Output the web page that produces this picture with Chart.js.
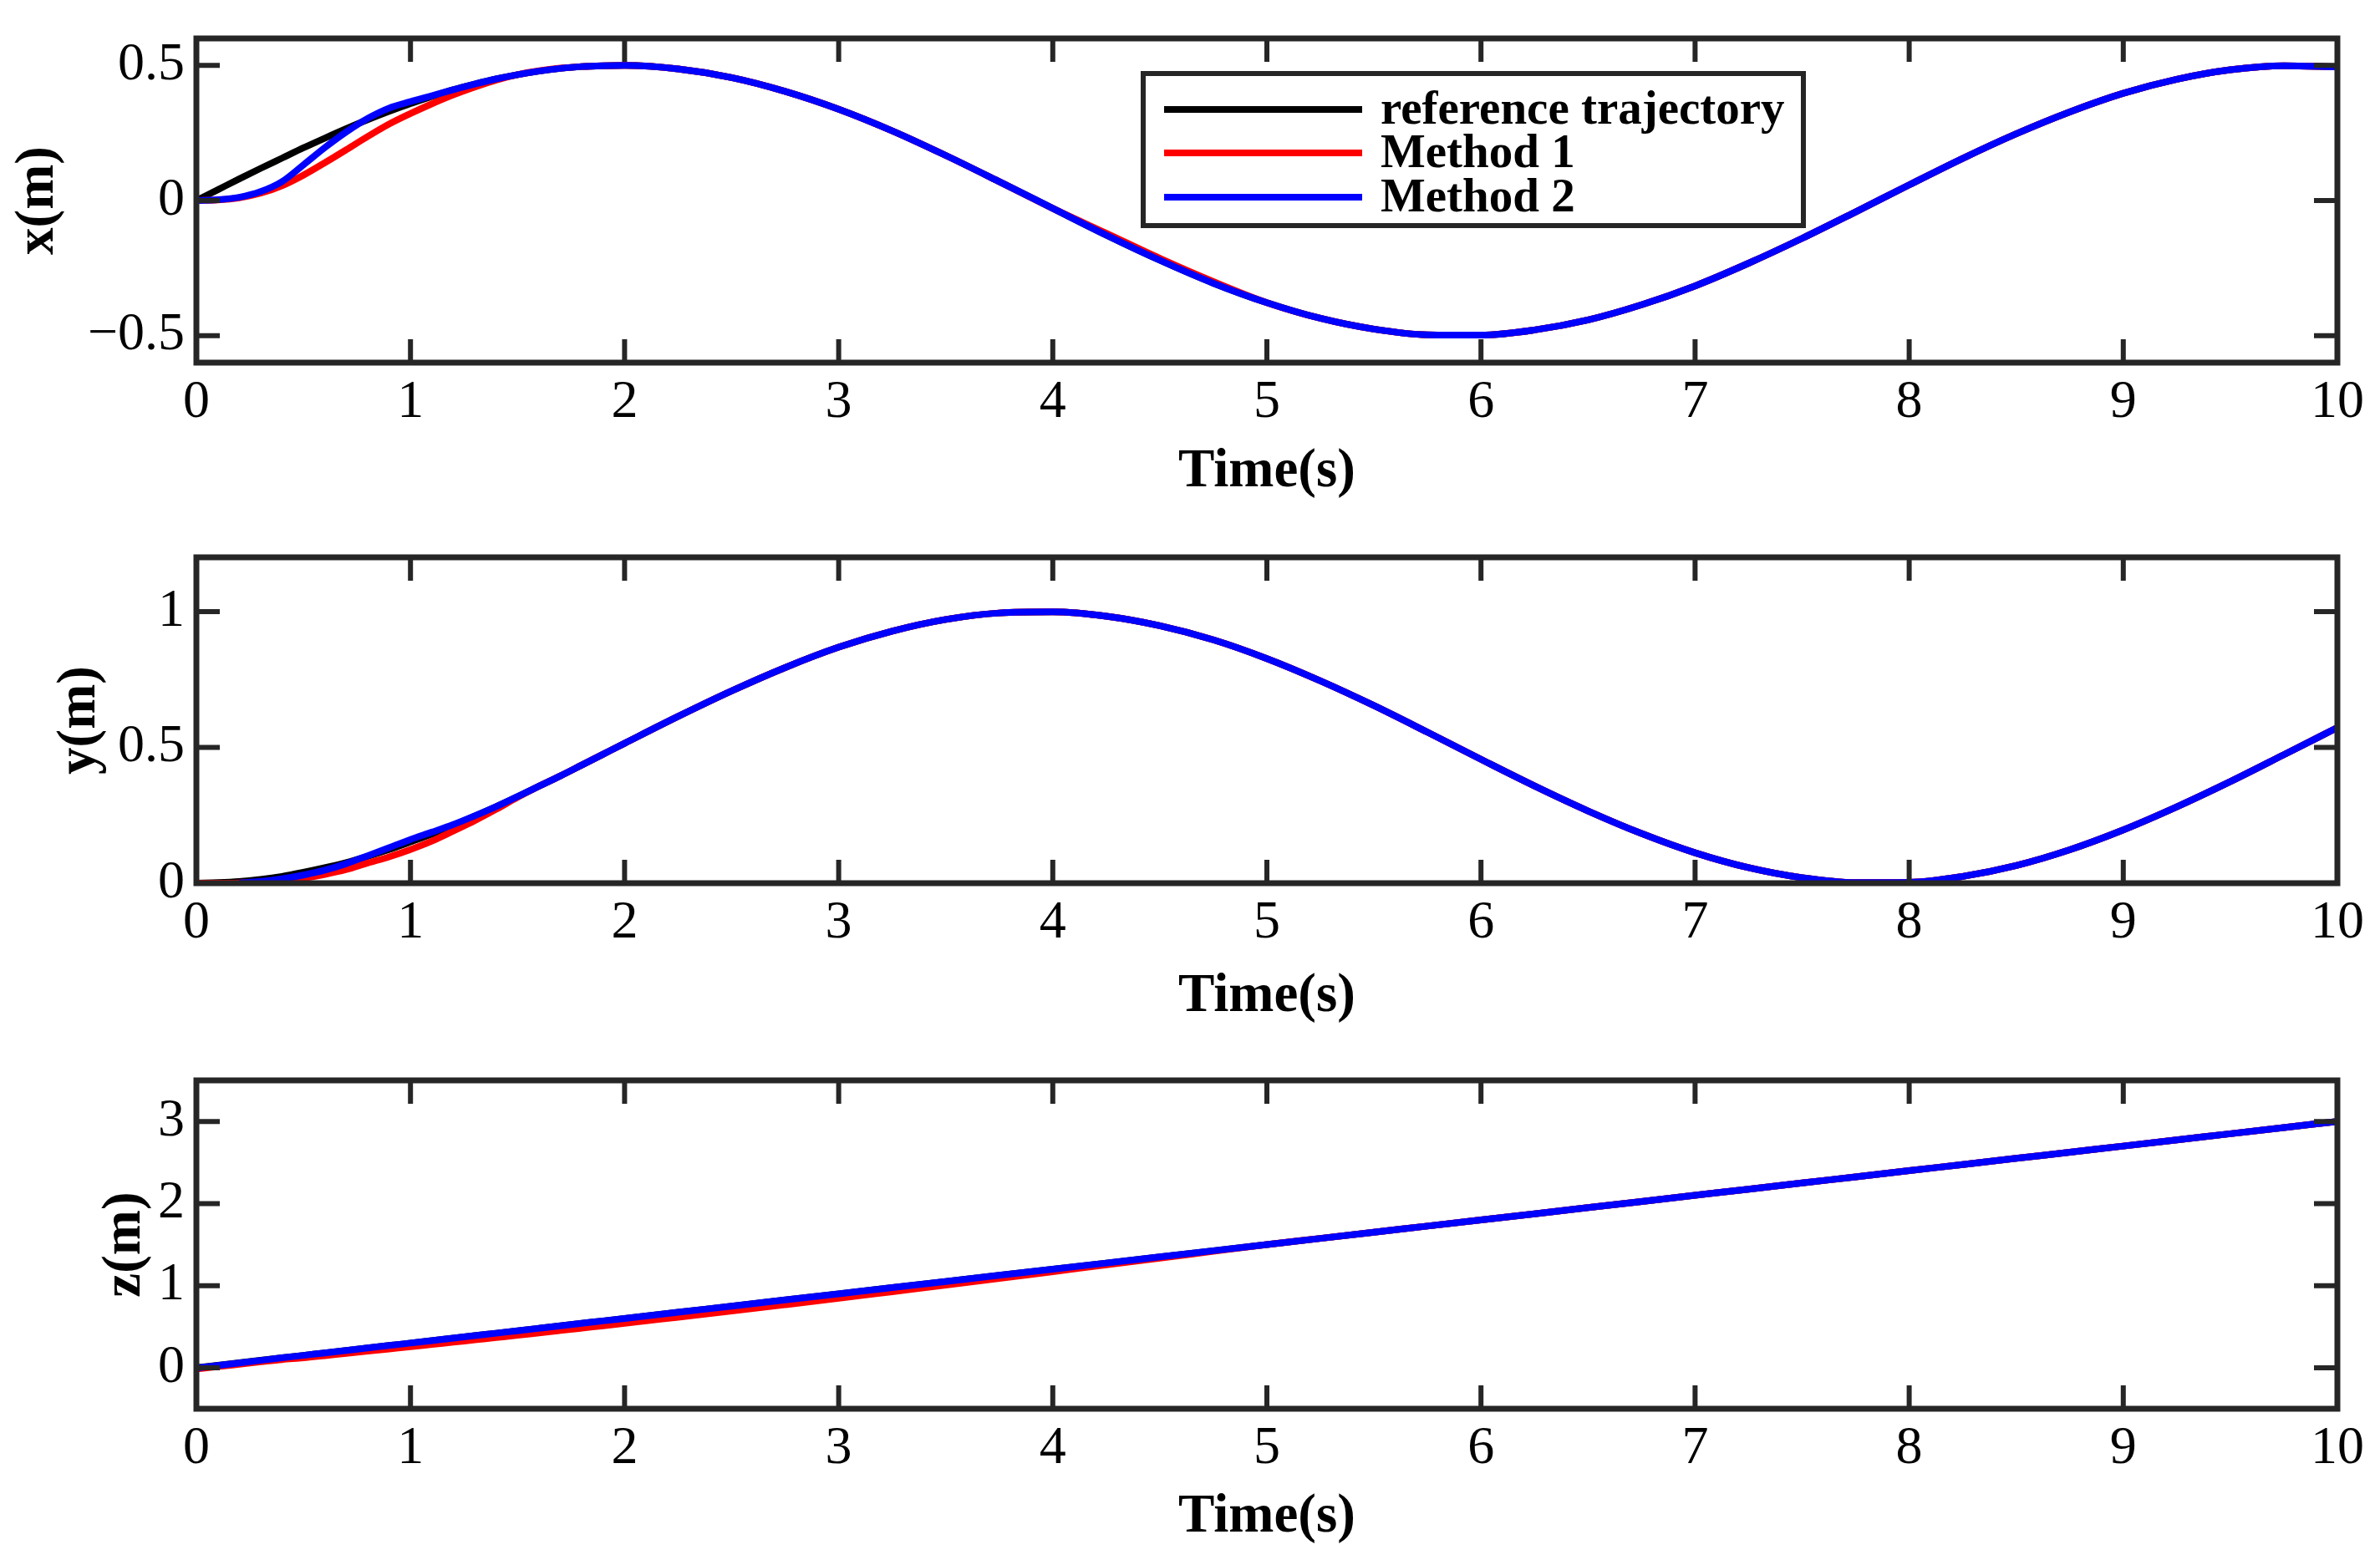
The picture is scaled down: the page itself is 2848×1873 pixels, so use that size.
<!DOCTYPE html>
<html><head><meta charset="utf-8">
<script src="https://cdn.jsdelivr.net/npm/chart.js@4.4.0/dist/chart.umd.min.js"></script>
<style>
html,body{margin:0;padding:0;background:#fff;width:2848px;height:1873px;overflow:hidden;}
canvas{position:absolute;left:0;}
</style></head><body>
<canvas id="c1" width="2848" height="620" style="top:0px"></canvas>
<canvas id="c2" width="2848" height="620" style="top:620px"></canvas>
<canvas id="c3" width="2848" height="633" style="top:1240px"></canvas>
<script>
// ---------- data ----------
const TIME = [0,0.1,0.2,0.3,0.4,0.5,0.6,0.7,0.8,0.9,1.0,1.1,1.2,1.3,1.4,1.5,1.6,1.7,1.8,1.9,2.0,
  2.25,2.5,2.75,3.0,3.25,3.5,3.75,4.0,4.25,4.5,4.75,5.0,5.25,5.5,5.75,6.0,6.25,6.5,6.75,7.0,
  7.25,7.5,7.75,8.0,8.25,8.5,8.75,9.0,9.25,9.5,9.75,10.0];

const SERIES_NAMES = ['reference trajectory', 'Method 1', 'Method 2'];

const X_REF = [0,0.040,0.080,0.119,0.157,0.195,0.231,0.266,0.299,0.330,0.359,0.385,0.410,0.431,0.450,0.466,0.479,0.489,0.496,0.499,0.500,
  0.487,0.455,0.404,0.338,0.258,0.167,0.070,-0.029,-0.128,-0.221,-0.306,-0.378,-0.436,-0.476,-0.497,-0.498,
  -0.479,-0.442,-0.386,-0.316,-0.232,-0.140,-0.042,0.058,0.156,0.247,0.328,0.397,0.449,0.484,0.499,0.495];
const X_M1 = [0,0.002,0.010,0.027,0.055,0.094,0.140,0.188,0.237,0.283,0.322,0.358,0.391,0.420,0.446,0.466,0.480,0.490,0.496,0.499,0.500,
  0.487,0.455,0.404,0.338,0.258,0.167,0.070,-0.029,-0.121,-0.214,-0.300,-0.378,-0.436,-0.476,-0.497,-0.498,
  -0.479,-0.442,-0.386,-0.316,-0.232,-0.140,-0.042,0.058,0.156,0.247,0.328,0.397,0.449,0.484,0.499,0.495];
const X_M2 = [0,0.003,0.012,0.033,0.070,0.132,0.196,0.254,0.304,0.342,0.366,0.388,0.410,0.431,0.450,0.466,0.479,0.489,0.496,0.499,0.500,
  0.487,0.455,0.404,0.338,0.258,0.167,0.070,-0.029,-0.128,-0.221,-0.306,-0.378,-0.436,-0.476,-0.497,-0.498,
  -0.479,-0.442,-0.386,-0.316,-0.232,-0.140,-0.042,0.058,0.156,0.247,0.328,0.397,0.449,0.484,0.499,0.495];

const Y_REF = [0,0.002,0.006,0.014,0.025,0.040,0.057,0.076,0.099,0.124,0.152,0.181,0.213,0.247,0.282,0.319,0.357,0.395,0.435,0.475,0.515,
  0.614,0.708,0.794,0.869,0.928,0.971,0.995,0.999,0.983,0.948,0.896,0.827,0.745,0.654,0.556,0.456,
  0.358,0.266,0.183,0.112,0.057,0.020,0.002,0.003,0.025,0.065,0.123,0.196,0.281,0.374,0.473,0.573];
const Y_M1 = [0,0,0.001,0.003,0.008,0.018,0.032,0.050,0.074,0.097,0.124,0.155,0.192,0.230,0.272,0.316,0.357,0.395,0.435,0.475,0.515,
  0.614,0.708,0.794,0.869,0.928,0.971,0.995,0.999,0.983,0.948,0.896,0.827,0.745,0.654,0.556,0.456,
  0.358,0.266,0.183,0.112,0.057,0.020,0.002,0.003,0.025,0.065,0.123,0.196,0.281,0.374,0.473,0.573];
const Y_M2 = [null,null,0.001,0.006,0.016,0.030,0.048,0.072,0.101,0.131,0.161,0.188,0.216,0.248,0.282,0.319,0.357,0.395,0.435,0.475,0.515,
  0.614,0.708,0.794,0.869,0.928,0.971,0.995,0.999,0.983,0.948,0.896,0.827,0.745,0.654,0.556,0.456,
  0.358,0.266,0.183,0.112,0.057,0.020,0.002,0.003,0.025,0.065,0.123,0.196,0.281,0.374,0.473,0.573];

const Z_REF = [0,0.03,0.06,0.09,0.12,0.15,0.18,0.21,0.24,0.27,0.30,0.33,0.36,0.39,0.42,0.45,0.48,0.51,0.54,0.57,0.60,
  0.675,0.75,0.825,0.90,0.975,1.05,1.125,1.20,1.275,1.35,1.425,1.50,1.575,1.65,1.725,1.80,
  1.875,1.95,2.025,2.10,2.175,2.25,2.325,2.40,2.475,2.55,2.625,2.70,2.775,2.85,2.925,3.00];
const Z_M1 = [-0.015,0.013,0.042,0.071,0.099,0.120,0.147,0.174,0.201,0.228,0.255,0.283,0.311,0.339,0.367,0.395,0.424,0.453,0.482,0.511,0.540,
  0.615,0.690,0.767,0.845,0.925,1.005,1.087,1.170,1.252,1.335,1.417,1.50,1.575,1.65,1.725,1.80,
  1.875,1.95,2.025,2.10,2.175,2.25,2.325,2.40,2.475,2.55,2.625,2.70,2.775,2.85,2.925,3.00];
const Z_M2 = [-0.005,0.027,0.058,0.089,0.12,0.15,0.18,0.21,0.24,0.27,0.30,0.33,0.36,0.39,0.42,0.45,0.48,0.51,0.54,0.57,0.60,
  0.675,0.75,0.825,0.90,0.975,1.05,1.125,1.20,1.275,1.35,1.425,1.50,1.575,1.65,1.725,1.80,
  1.875,1.95,2.025,2.10,2.175,2.25,2.325,2.40,2.475,2.55,2.625,2.70,2.775,2.85,2.925,3.00];

const X_TICKS = [0,1,2,3,4,5,6,7,8,9,10];
const XPOS_TICKS = [-0.5,0,0.5];
const YPOS_TICKS = [0,0.5,1];
const ZPOS_TICKS = [0,1,2,3];

// ---------- styling ----------
const AXIS_COLOR = '#262626';
const COLORS = ['#000000','#ff0000','#0000ff'];
const FONT = 'Liberation Serif';

const fmt = v => (v < 0 ? '\u2212' + Math.abs(v) : String(v));

const boxAndTicks = {
  id: 'boxAndTicks',
  afterDraw(chart) {
    const {ctx, chartArea: a, scales: {x, y}} = chart;
    const L = 28;
    ctx.save();
    ctx.strokeStyle = AXIS_COLOR;
    ctx.lineWidth = 6;
    ctx.beginPath();
    x.ticks.forEach(t => {
      const px = x.getPixelForValue(t.value);
      ctx.moveTo(px, a.bottom); ctx.lineTo(px, a.bottom - L);
      ctx.moveTo(px, a.top); ctx.lineTo(px, a.top + L);
    });
    y.ticks.forEach(t => {
      const py = y.getPixelForValue(t.value);
      ctx.moveTo(a.left, py); ctx.lineTo(a.left + L, py);
      ctx.moveTo(a.right, py); ctx.lineTo(a.right - L, py);
    });
    ctx.stroke();
    ctx.lineWidth = 7;
    ctx.strokeRect(a.left, a.top, a.right - a.left, a.bottom - a.top);
    ctx.restore();
  }
};

const legendBox = {
  id: 'legendBox',
  afterDraw(chart) {
    const ctx = chart.ctx;
    const bx = 1368, by = 88, bw = 790, bh = 182;
    const rows = [131, 183, 236];
    ctx.save();
    ctx.fillStyle = '#fff';
    ctx.fillRect(bx, by, bw, bh);
    ctx.lineWidth = 6;
    ctx.strokeStyle = AXIS_COLOR;
    ctx.strokeRect(bx, by, bw, bh);
    ctx.font = 'bold 57px "' + FONT + '"';
    ctx.textBaseline = 'middle';
    ctx.textAlign = 'left';
    chart.data.datasets.forEach((ds, i) => {
      ctx.strokeStyle = ds.borderColor;
      ctx.lineWidth = 8;
      ctx.beginPath();
      ctx.moveTo(1393, rows[i]); ctx.lineTo(1630, rows[i]);
      ctx.stroke();
      ctx.fillStyle = '#000';
      ctx.fillText(ds.label, 1652, rows[i] + 2);
    });
    ctx.restore();
  }
};

function makeChart(id, series, yMin, yMax, yTicks, yTitle, topPad, xHeight, xTitlePad, yTitlePad, withLegend) {
  const datasets = series.map((arr, i) => ({
    label: SERIES_NAMES[i],
    data: TIME.map((t, k) => ({x: t, y: arr[k]})),
    borderColor: COLORS[i],
    backgroundColor: COLORS[i],
    borderWidth: 8,
    pointRadius: 0,
    fill: false,
    cubicInterpolationMode: 'monotone',
    order: 2 - i
  }));
  return new Chart(document.getElementById(id), {
    type: 'line',
    data: {datasets},
    options: {
      responsive: false,
      animation: false,
      devicePixelRatio: 1,
      layout: {padding: {left: 0, right: 51, top: topPad, bottom: 0}},
      plugins: {legend: {display: false}, tooltip: {enabled: false}},
      scales: {
        x: {
          type: 'linear', min: 0, max: 10,
          afterBuildTicks: s => { s.ticks = X_TICKS.map(v => ({value: v})); },
          afterFit: s => { s.height = xHeight; },
          grid: {display: false, drawTicks: false},
          border: {display: false},
          ticks: {padding: 16, autoSkip: false, maxRotation: 0, minRotation: 0, color: '#000',
                  font: {family: FONT, size: 64, lineHeight: 1}, callback: v => fmt(v)},
          title: {display: true, text: 'Time(s)', color: '#000',
                  font: {family: FONT, size: 65, weight: 'bold', lineHeight: 1},
                  padding: {top: 0, bottom: xTitlePad}}
        },
        y: {
          type: 'linear', min: yMin, max: yMax,
          afterBuildTicks: s => { s.ticks = yTicks.map(v => ({value: v})); },
          afterFit: s => { s.width = 235; },
          grid: {display: false, drawTicks: false},
          border: {display: false},
          ticks: {padding: 14, color: '#000', font: {family: FONT, size: 64, lineHeight: 1}, callback: v => fmt(v)},
          title: {display: true, text: yTitle, color: '#000',
                  font: {family: FONT, size: 65, weight: 'bold', lineHeight: 1},
                  padding: {top: yTitlePad, bottom: 0}}
        }
      }
    },
    plugins: withLegend ? [boxAndTicks, legendBox] : [boxAndTicks]
  });
}

makeChart('c1', [X_REF, X_M1, X_M2], -0.6, 0.6, XPOS_TICKS, 'x(m)', 40, 186, 22.5, 13.5, true);
makeChart('c2', [Y_REF, Y_M1, Y_M2], 0, 1.2, YPOS_TICKS, 'y(m)', 47, 183, 14.5, 63.5, false);
makeChart('c3', [Z_REF, Z_M1, Z_M2], -0.5, 3.5, ZPOS_TICKS, 'z(m)', 53, 187, 24.5, 117.5, false);
</script>
</body></html>
